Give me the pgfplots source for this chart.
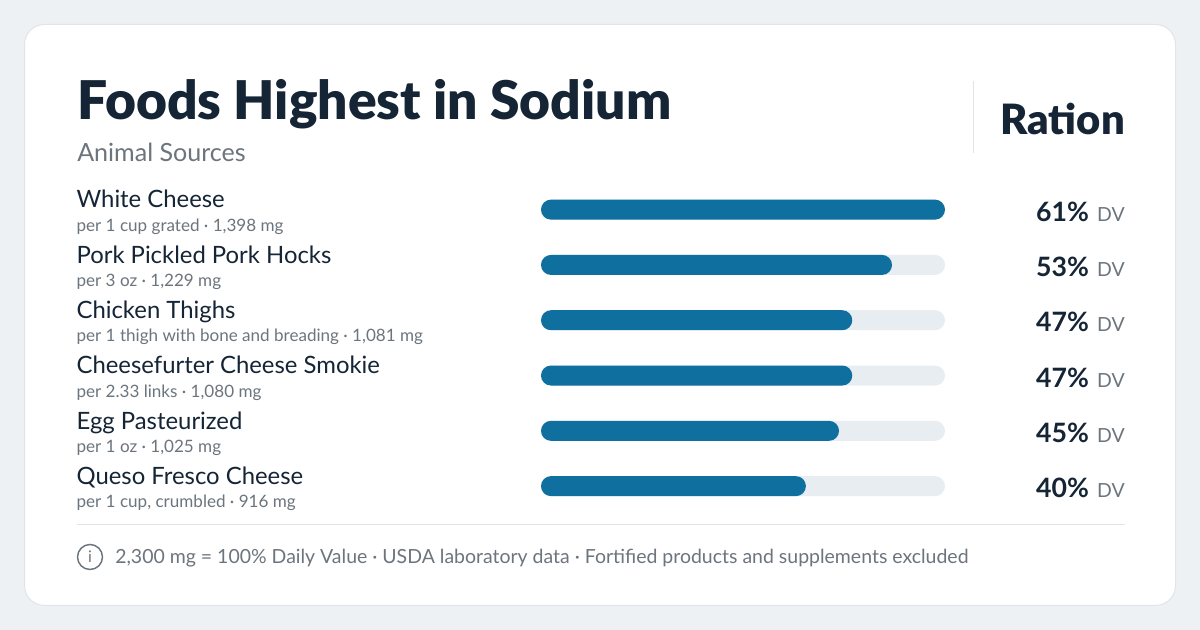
\documentclass[border=0pt]{standalone}
\usepackage{pgfplots}
\pgfplotsset{compat=1.18}
\usepackage{fontspec}
\setmainfont{Lato}
\newfontfamily\heavy{Lato Black}
\definecolor{pagebg}{HTML}{EDF1F4}
\definecolor{cardline}{HTML}{DFE5EB}
\definecolor{ink}{HTML}{152536}
\definecolor{muted}{HTML}{6C757D}
\definecolor{barblue}{HTML}{0F6F9F}
\definecolor{track}{HTML}{E8EDF2}
\newcommand\lab[2]{\parbox[c]{300pt}{\raggedright\baselineskip=17.6pt
  {\fontsize{17.9}{17.6}\selectfont\color{ink}#1}\\{\fontsize{12.8}{17.6}\selectfont\color{muted}#2}}}
\newcommand\val[2]{\node[anchor=base east,inner sep=0pt] at (axis cs:88.18,#1) [yshift=-8.8pt]
  {\fontsize{20}{20}\selectfont\bfseries\color{ink}#2\%\hspace{6.2pt}\fontsize{14.6}{20}\selectfont\mdseries\color{muted}DV};}
\begin{document}
\begin{tikzpicture}[x=0.75pt,y=0.75pt]
\fill[pagebg] (0,0) rectangle (1200,630);
\filldraw[fill=white,draw=cardline,line width=0.75pt,rounded corners=15pt] (24.5,24.5) rectangle (1175.5,605.5);
\node[anchor=base west,inner sep=0pt] at (77,510.5) {\fontsize{40}{44}\selectfont\heavy\color{ink}Foods Highest in Sodium};
\node[anchor=base west,inner sep=0pt] at (77,468.5) {\fontsize{18.8}{20}\selectfont\color{muted}Animal Sources};
\draw[cardline,line width=0.75pt] (973.5,477) -- (973.5,549);
\node[anchor=base east,inner sep=0pt] at (1125,495.5) {\fontsize{31.3}{34}\selectfont\heavy\color{ink}Ration};
\begin{axis}[
  at={(557.25pt,211.575pt)},anchor=center,
  scale only axis,width=303pt,height=248.85pt,
  xmin=0,xmax=61,ymin=-0.5,ymax=5.5,y dir=reverse,
  axis line style={draw=none},tick style={draw=none},
  xtick=\empty,ytick={0,1,2,3,4,5},
  yticklabels={
    \lab{White Cheese}{per 1 cup grated · 1,398 mg},
    \lab{Pork Pickled Pork Hocks}{per 3 oz · 1,229 mg},
    \lab{Chicken Thighs}{per 1 thigh with bone and breading · 1,081 mg},
    \lab{Cheesefurter Cheese Smokie}{per 2.33 links · 1,080 mg},
    \lab{Egg Pasteurized}{per 1 oz · 1,025 mg},
    \lab{Queso Fresco Cheese}{per 1 cup, crumbled · 916 mg}},
  yticklabel style={anchor=west,inner sep=0pt,xshift=-344.25pt,yshift=-2pt},
  xbar,bar width=15pt,bar shift=0pt,clip=false,
]
\addplot[fill=track,draw=none,rounded corners=7.5pt] coordinates {(61,0)(61,1)(61,2)(61,3)(61,4)(61,5)};
\addplot[fill=barblue,draw=none,rounded corners=7.5pt] coordinates {(61,0)(53,1)(47,2)(47,3)(45,4)(40,5)};
\val{0}{61}\val{1}{53}\val{2}{47}\val{3}{47}\val{4}{45}\val{5}{40}
\end{axis}
\draw[cardline,line width=0.75pt] (77,105.5) -- (1125,105.5);
\draw[muted,line width=1.1pt] (90,73) circle (12.5);
\node[inner sep=0pt] at (90,73) {\fontsize{12}{12}\selectfont\color{muted}i};
\node[anchor=base west,inner sep=0pt] at (115,66) {\fontsize{14.6}{16}\selectfont\color{muted}2,300 mg = 100\% Daily Value · USDA laboratory data · Fortified products and supplements excluded};
\end{tikzpicture}
\end{document}
